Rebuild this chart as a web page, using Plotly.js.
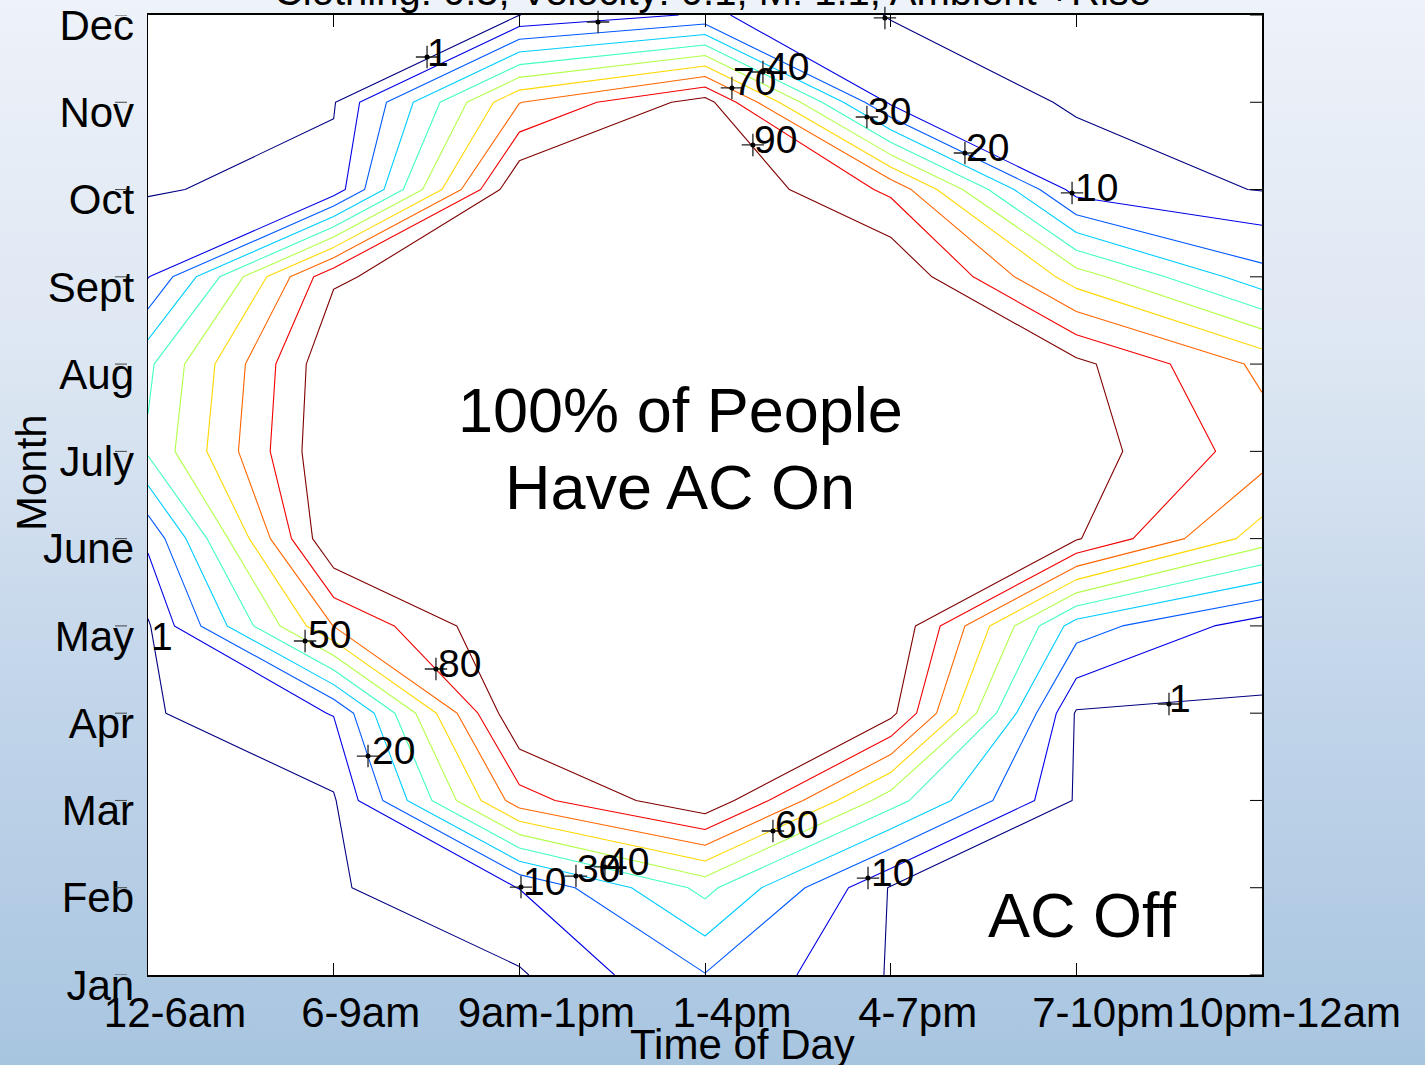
<!DOCTYPE html>
<html><head><meta charset="utf-8">
<script src="https://cdn.plot.ly/plotly-3.0.1.min.js"></script>
<style>
html,body{margin:0;padding:0;width:1425px;height:1065px;overflow:hidden;
background:linear-gradient(to bottom,#eef2f9 0%,#dce6f2 35%,#c2d5ea 65%,#a8c5e0 100%);}
#chart{width:1425px;height:1065px;}
</style></head><body><div id="chart"></div>
<script>
// Categories
const timeOfDay = ['12-6am','6-9am','9am-1pm','1-4pm','4-7pm','7-10pm','10pm-12am'];
const months = ['Jan','Feb','Mar','Apr','May','June','July','Aug','Sept','Oct','Nov','Dec'];

// % of people with AC on, one array per month, across timeOfDay
const jan = [0, 0, 0, 19.5, 0.3, 0, 0];
const feb = [0, 0, 10.15, 43, 0.3, 0, 0];
const mar = [0, 0, 75.6, 98.5, 44.5, 0, 0];
const apr = [0, 10.4, 100, 100, 93, 0, 0];
const may = [0, 70.3, 100, 100, 100, 25, 4.8];
const jun = [12, 100, 100, 100, 100, 91, 55];
const jul = [41.5, 100, 100, 100, 100, 95, 75];
const aug = [38, 99, 100, 100, 100, 92.7, 67.6];
const sep = [9.5, 88.5, 100, 100, 100, 55, 23.6];
const oct = [0.25, 4, 100, 100, 78, 5.8, 0.6];
const nov = [0, 0.3, 69.6, 94.5, 8, 0, 0];
const dec = [0, 0, 0.9, 11.5, 0.55, 0, 0];

// Contour levels and their (jet) colours
const levels = [1, 10, 20, 30, 40, 50, 60, 70, 80, 90];
const levelColors = ['rgb(0,0,128)','rgb(0,0,231)','rgb(0,90,255)','rgb(0,205,255)','rgb(64,255,190)',
                     'rgb(179,255,76)','rgb(255,216,0)','rgb(255,102,0)','rgb(242,0,0)','rgb(128,0,0)'];

// Contour-label annotations (text, '+' anchor, text centre) in axis units
const labelText  = ['1','10','1','40','70','30','90','20','10','50','80','1','20','1','60','10','30','40','10'];
const labelMarkX = [1.503,2.424,3.969,3.312,3.145,3.872,3.258,4.400,4.977,0.846,1.551,-0.167,1.185,5.499,3.366,2.009,2.305,2.461,3.878];
const labelMarkY = [10.519,10.920,10.966,10.347,10.164,9.831,9.511,9.419,8.961,3.827,3.506,4.011,2.509,3.105,1.650,1.008,1.134,1.238,1.111];
const labelTextX = [1.562,2.542,4.023,3.442,3.269,3.996,3.382,4.524,5.106,0.975,1.680,0.075,1.320,5.558,3.495,2.133,2.424,2.580,4.012];
const labelTextY = [10.576,11.15,11.15,10.405,10.233,9.900,9.576,9.484,9.018,3.896,3.575,3.873,2.578,3.174,1.730,1.077,1.226,1.306,1.180];

const z = [jan, feb, mar, apr, may, jun, jul, aug, sep, oct, nov, dec];
const xIdx = timeOfDay.map((_, i) => i);
const yIdx = months.map((_, i) => i);

const FONT = '"Liberation Sans", Arial, Helvetica, sans-serif';

const traces = levels.map((lv, i) => ({
  type: 'contour', x: xIdx, y: yIdx, z: z,
  autocontour: false,
  contours: {start: lv, end: lv, size: 1, coloring: 'none', showlabels: false},
  line: {color: levelColors[i], width: 1.1, smoothing: 0},
  showscale: false, hoverinfo: 'skip', name: String(lv)
}));

traces.push({
  type: 'scatter', mode: 'markers', x: labelMarkX, y: labelMarkY, cliponaxis: false,
  marker: {symbol: 'cross-thin-open', size: 16, color: '#222', line: {width: 1.3, color: '#222'}},
  hoverinfo: 'skip', showlegend: false
});
traces.push({
  type: 'scatter', mode: 'markers', x: labelMarkX, y: labelMarkY, cliponaxis: false,
  marker: {symbol: 'circle', size: 5, color: '#000'},
  hoverinfo: 'skip', showlegend: false
});

const annotations = labelText.map((t, i) => ({
  x: labelTextX[i], y: labelTextY[i], xref: 'x', yref: 'y', text: t, showarrow: false,
  xanchor: 'center', yanchor: 'middle', font: {size: 39, family: FONT, color: '#000'}
}));
annotations.push({x: 2.866, y: 6.474, xref: 'x', yref: 'y', text: '100% of People', showarrow: false,
  xanchor: 'center', yanchor: 'middle', font: {size: 63, family: FONT, color: '#000'}});
annotations.push({x: 2.866, y: 5.59, xref: 'x', yref: 'y', text: 'Have AC On', showarrow: false,
  xanchor: 'center', yanchor: 'middle', font: {size: 63, family: FONT, color: '#000'}});
annotations.push({x: 5.03, y: 0.688, xref: 'x', yref: 'y', text: 'AC Off', showarrow: false,
  xanchor: 'center', yanchor: 'middle', font: {size: 63, family: FONT, color: '#000'}});
// axis titles
annotations.push({x: 0.534, y: -0.0729, xref: 'paper', yref: 'paper', text: 'Time of Day', showarrow: false,
  xanchor: 'center', yanchor: 'middle', font: {size: 42, family: FONT, color: '#000'}});
annotations.push({x: -0.104, y: 0.523, xref: 'paper', yref: 'paper', text: 'Month', showarrow: false,
  textangle: -90, xanchor: 'center', yanchor: 'middle', font: {size: 42, family: FONT, color: '#000'}});

const PW = 1114;
const shapes = [];
yIdx.forEach(v => {
  shapes.push({type: 'line', xref: 'paper', yref: 'y', x0: 1 - 12 / PW, x1: 1, y0: v, y1: v,
    line: {color: '#000', width: 1}});
  shapes.push({type: 'line', xref: 'paper', yref: 'y', x0: -33 / PW, x1: -21 / PW, y0: v, y1: v,
    line: {color: '#444', width: 1}});
});

const layout = {
  width: 1425, height: 1065,
  margin: {l: 148, r: 163, t: 15, b: 90, pad: 0},
  paper_bgcolor: 'rgba(0,0,0,0)', plot_bgcolor: '#ffffff',
  showlegend: false,
  font: {family: FONT, color: '#000'},
  title: {text: 'Clothing: 0.5, Velocity: 0.1, M: 1.1, Ambient +Rise', font: {size: 40, family: FONT, color: '#000'},
          x: 0.5, xref: 'container', xanchor: 'center', y: 0.9955, yref: 'container', yanchor: 'bottom'},
  xaxis: {range: [0, 6], tickmode: 'array', tickvals: xIdx, ticktext: timeOfDay,
          ticks: 'inside', ticklen: 12, tickcolor: '#000', tickwidth: 1,
          showline: true, linecolor: '#000', linewidth: 2, mirror: 'ticks',
          showgrid: false, zeroline: false, ticklabelshift: 27, ticklabelstandoff: 0,
          ticklabeloverflow: 'allow',
          tickfont: {size: 42, family: FONT, color: '#000'}},
  yaxis: {range: [0, 11], tickmode: 'array', tickvals: yIdx, ticktext: months,
          ticks: '', showline: true, linecolor: '#000', linewidth: 1.5, mirror: true,
          showgrid: false, zeroline: false, ticklabelshift: 10, ticklabelstandoff: 4,
          ticklabeloverflow: 'allow',
          tickfont: {size: 42, family: FONT, color: '#000'}},
  annotations: annotations,
  shapes: shapes
};

Plotly.newPlot('chart', traces, layout, {staticPlot: true, displayModeBar: false});
</script>
</body></html>
